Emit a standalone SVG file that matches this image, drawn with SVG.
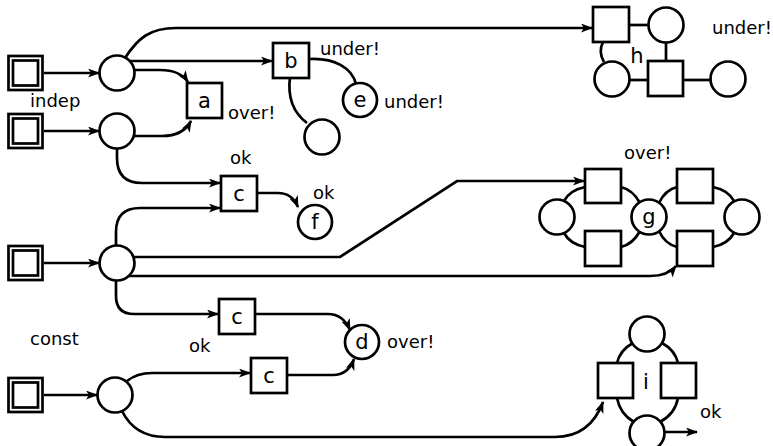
<svg xmlns="http://www.w3.org/2000/svg" width="773" height="446" viewBox="0 0 773 446">
<defs>
<marker id="arr" markerWidth="13" markerHeight="10" refX="11" refY="4.5" orient="auto" markerUnits="userSpaceOnUse">
<path d="M0,0 L12,4.5 L0,9 L3,4.5 z" fill="#000"/>
</marker>
<style>
.n{fill:#fff;stroke:#000;stroke-width:2.7}
.e{fill:none;stroke:#000;stroke-width:2.7}
.a{fill:none;stroke:#000;stroke-width:2.7;marker-end:url(#arr)}
.t{font-family:"DejaVu Sans","Liberation Sans",sans-serif;font-size:18px;fill:#000}
.l{font-family:"DejaVu Sans","Liberation Sans",sans-serif;font-size:21px;fill:#000;text-anchor:middle}
</style>
</defs>
<rect width="773" height="446" fill="#fff"/>
<g id="connectors">
<path class="a" d="M44,73 L99,73"/>
<path class="a" d="M44,131 L99,131"/>
<path class="a" d="M44,263 L99,263"/>
<path class="a" d="M44,395 L97,395"/>
<path class="a" d="M125,58 C138,38 150,28 176,28 L592,28"/>
<path class="a" d="M129,61 L272,61"/>
<path class="a" d="M134,70 L160,70 Q180,70 188,82"/>
<path class="a" d="M134,136 L162,136 Q183,136 191,121"/>
<path class="a" d="M117,148 L117,158 Q117,183 142,183 L220,183"/>
<path class="a" d="M116,246 L116,232 Q116,208 140,208 L220,208"/>
<path class="a" d="M257,193 L278,193 Q292,193 298,207"/>
<path class="a" d="M134,257 L340,257 L457,181 L584,181"/>
<path class="a" d="M128,276 L650,276 Q668,276 676,266"/>
<path class="a" d="M116,280 L116,296 Q116,314 134,314 L218,314"/>
<path class="a" d="M255,314 L328,314 Q343,314 350,330"/>
<path class="a" d="M287,375 L333,375 Q348,375 354,359"/>
<path class="a" d="M127,381 Q137,373 152,373 L250,373"/>
<path class="a" d="M122,411 Q135,437 165,437 L555,437 Q590,437 603,402"/>
<path class="a" d="M664,432 L697,432"/>
<path class="e" d="M310,59 C335,58 352,68 356,84"/>
<path class="e" d="M290,77 C287,100 295,114 307,123"/>
<path class="e" d="M630,25 L649,25"/>
<path class="e" d="M666,42 L666,60"/>
<path class="e" d="M629,80 L648,80"/>
<path class="e" d="M683,80 L711,80"/>
<path class="e" d="M603,42 Q598,52 604,62"/>
<path class="e" d="M564,201 Q570,190 585,187"/>
<path class="e" d="M621,187 Q633,190 640,203"/>
<path class="e" d="M564,233 Q570,244 585,247"/>
<path class="e" d="M621,247 Q633,244 640,231"/>
<path class="e" d="M659,203 Q665,190 677,187"/>
<path class="e" d="M713,187 Q728,190 734,201"/>
<path class="e" d="M659,231 Q665,244 677,247"/>
<path class="e" d="M713,247 Q728,244 734,233"/>
<path class="e" d="M633,343 Q620,350 617,363"/>
<path class="e" d="M662,343 Q675,350 678,363"/>
<path class="e" d="M617,398 Q620,414 634,422"/>
<path class="e" d="M678,398 Q675,414 660,422"/>
</g>
<g id="in1"><rect class="n" x="8.5" y="56" width="34" height="34"/><rect class="n" x="13" y="60.5" width="25" height="25" stroke-width="2"/></g>
<g id="in2"><rect class="n" x="8.5" y="114" width="34" height="34"/><rect class="n" x="13" y="118.5" width="25" height="25" stroke-width="2"/></g>
<g id="in3"><rect class="n" x="8.5" y="246" width="34" height="34"/><rect class="n" x="13" y="250.5" width="25" height="25" stroke-width="2"/></g>
<g id="in4"><rect class="n" x="8.5" y="378" width="34" height="34"/><rect class="n" x="13" y="382.5" width="25" height="25" stroke-width="2"/></g>
<g id="p1"><circle class="n" cx="117" cy="73" r="17.5"/></g>
<g id="p2"><circle class="n" cx="117" cy="131" r="17.5"/></g>
<g id="p3"><circle class="n" cx="117" cy="263" r="17.5"/></g>
<g id="p4"><circle class="n" cx="115" cy="395" r="17.5"/></g>
<g id="a"><rect class="n" x="187" y="83" width="35" height="35"/><text class="l" x="204.5" y="108">a</text></g>
<g id="b"><rect class="n" x="273" y="43" width="36" height="35"/><text class="l" x="291" y="68">b</text></g>
<g id="e"><circle class="n" cx="360" cy="100" r="17"/><text class="l" x="360" y="107">e</text></g>
<g id="bp"><circle class="n" cx="322" cy="137" r="17.5"/></g>
<g id="c1"><rect class="n" x="221" y="176" width="36" height="35"/><text class="l" x="239" y="201">c</text></g>
<g id="f"><circle class="n" cx="315" cy="222" r="17"/><text class="l" x="315" y="229">f</text></g>
<g id="c2"><rect class="n" x="219" y="299" width="36" height="35"/><text class="l" x="237" y="324">c</text></g>
<g id="c3"><rect class="n" x="251" y="358" width="36" height="35"/><text class="l" x="269" y="383">c</text></g>
<g id="d"><circle class="n" cx="362" cy="342" r="17"/><text class="l" x="362" y="349">d</text></g>
<g id="h">
<rect class="n" x="593" y="7" width="36" height="35"/>
<circle class="n" cx="666" cy="25" r="17.5"/>
<circle class="n" cx="612" cy="79" r="17.5"/>
<rect class="n" x="648" y="61" width="35" height="35"/>
<circle class="n" cx="728" cy="79" r="17.5"/>
<text class="l" x="637" y="63">h</text>
</g>
<g id="g">
<circle class="n" cx="557" cy="217" r="17.5"/>
<rect class="n" x="585" y="169" width="36" height="34"/>
<rect class="n" x="585" y="231" width="36" height="35"/>
<circle class="n" cx="649" cy="217" r="17.5"/>
<rect class="n" x="677" y="169" width="36" height="34"/>
<rect class="n" x="677" y="231" width="36" height="35"/>
<circle class="n" cx="742" cy="217" r="17.5"/>
<text class="l" x="649" y="224">g</text>
</g>
<g id="i">
<circle class="n" cx="647" cy="334" r="17.5"/>
<rect class="n" x="598" y="363" width="35" height="35"/>
<rect class="n" x="661" y="363" width="35" height="35"/>
<circle class="n" cx="647" cy="433" r="17.5"/>
<text class="l" x="646" y="389">i</text>
</g>
<g id="labels">
<text class="t" x="30" y="107">indep</text>
<text class="t" x="228" y="119">over!</text>
<text class="t" x="320" y="55">under!</text>
<text class="t" x="384" y="108">under!</text>
<text class="t" x="712" y="34">under!</text>
<text class="t" x="230" y="164">ok</text>
<text class="t" x="313" y="199">ok</text>
<text class="t" x="624" y="159">over!</text>
<text class="t" x="30" y="345">const</text>
<text class="t" x="189" y="352">ok</text>
<text class="t" x="387" y="348">over!</text>
<text class="t" x="700" y="418">ok</text>
</g>
</svg>
